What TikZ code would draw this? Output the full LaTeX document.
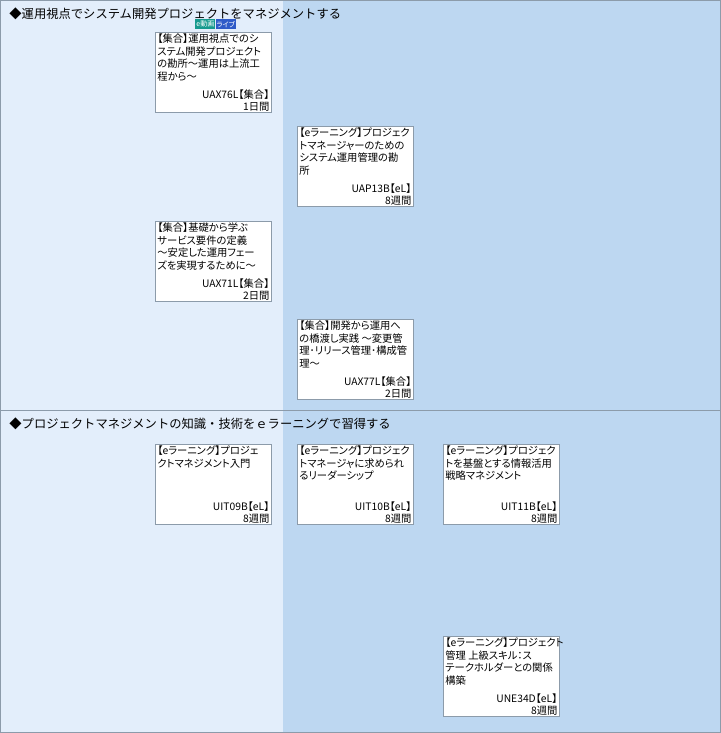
\documentclass[tikz,border=0pt]{standalone}
\usepackage{fontspec}
\setmainfont{Noto Sans CJK JP}[RawFeature=+palt]
\newfontfamily\headfont{Noto Sans CJK JP}
\usetikzlibrary{positioning}
\definecolor{paleblue}{HTML}{E3EEFB}
\definecolor{midblue}{HTML}{BDD7F1}
\definecolor{edgegray}{HTML}{8C9BAA}
\definecolor{tealbadge}{HTML}{169A8E}
\definecolor{bluebadge}{HTML}{2F5BC8}
\newcommand{\course}[6]{%
    \node[box] at (#2,#3) (#1) {};
    \node[title, anchor=north west] at ([xshift=1pt,yshift=-1pt]#1.north west) (#1t) {#4};
    \node[code, anchor=south east] at ([xshift=-1pt,yshift=12pt]#1.south east) (#1c) {#5};
    \node[code, anchor=south east] at ([xshift=-1pt]#1.south east) (#1d) {#6};
}
\begin{document}
\begin{tikzpicture}[x=1pt, y=-1pt,
box/.style = {draw=edgegray, fill=white, minimum width=116pt,
            minimum height=80pt, inner sep=0pt, anchor=north west},
title/.style = {align=left, inner sep=1pt, font=\fontsize{10.3}{12.4}\selectfont},
code/.style = {inner sep=1pt, font=\fontsize{10.3}{11}\selectfont},
head/.style = {anchor=west, inner sep=0pt, font=\headfont\fontsize{12.3}{13}\selectfont},
badge/.style = {text=white, inner sep=1pt, minimum height=10pt,
            font=\fontsize{7}{7}\selectfont}
                ]
    % background columns
    \fill[paleblue] (0,0) rectangle (283,733);
    \fill[midblue] (283,0) rectangle (720,733);
    \draw[edgegray] (0,410) -- (720,410);
    \draw[edgegray] (0.5,0.5) rectangle (719.5,732.5);

    % section 1
    \node[head] at (9,14) (h1) {◆運用視点でシステム開発プロジェクトをマネジメントする};
    \node[badge, fill=tealbadge, anchor=north west] at (195,19) (bdg1) {e動画};
    \node[badge, fill=bluebadge, right=0pt of bdg1] (bdg2) {ライブ};
    \course{c1}{155}{32}{【集合】運用視点でのシ\\ステム開発プロジェクト\\の勘所～運用は上流工\\程から～}{UAX76L【集合】}{1日間}
    \course{c2}{297}{126}{【eラーニング】プロジェク\\トマネージャーのための\\システム運用管理の勘\\所}{UAP13B【eL】}{8週間}
    \course{c3}{155}{221}{【集合】基礎から学ぶ\\サービス要件の定義\\～安定した運用フェー\\ズを実現するために～}{UAX71L【集合】}{2日間}
    \course{c4}{297}{319}{【集合】開発から運用へ\\の橋渡し実践 ～変更管\\理･リリース管理･構成管\\理～}{UAX77L【集合】}{2日間}

    % section 2
    \node[head] at (9,424) (h2) {◆プロジェクトマネジメントの知識・技術をｅラーニングで習得する};
    \course{c5}{155}{444}{【eラーニング】プロジェ\\クトマネジメント入門}{UIT09B【eL】}{8週間}
    \course{c6}{297}{444}{【eラーニング】プロジェク\\トマネージャに求められ\\るリーダーシップ}{UIT10B【eL】}{8週間}
    \course{c7}{443}{444}{【eラーニング】プロジェク\\トを基盤とする情報活用\\戦略マネジメント}{UIT11B【eL】}{8週間}
    \course{c8}{443}{636}{【eラーニング】プロジェクト\\管理 上級スキル：ス\\テークホルダーとの関係\\構築}{UNE34D【eL】}{8週間}
\end{tikzpicture}
\end{document}
